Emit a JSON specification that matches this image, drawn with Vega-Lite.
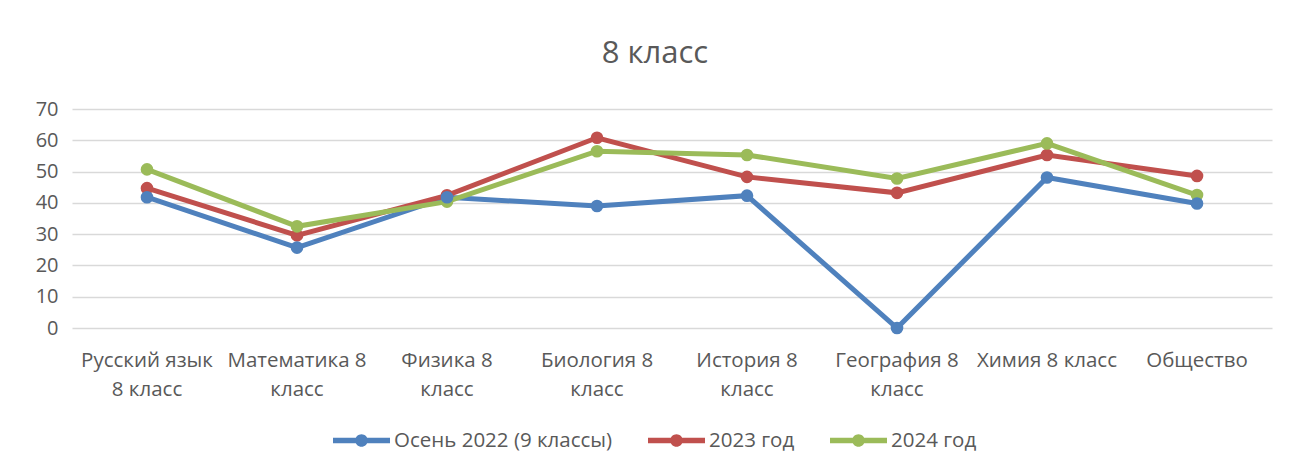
{
  "$schema": "https://vega.github.io/schema/vega-lite/v6.json",
  "autosize": "none",
  "width": 1200,
  "height": 219,
  "padding": {"left": 72, "top": 109, "right": 19, "bottom": 144},
  "background": "white",
  "config": {
    "font": "Open Sans",
    "view": {"stroke": null}
  },
  "title": {
    "text": "8 класс",
    "fontSize": 31,
    "fontWeight": "normal",
    "color": "#595959",
    "offset": 29,
    "dx": -17,
    "anchor": "middle"
  },
  "data": {
    "values": [
      {"subject": "Русский язык 8 класс", "series": "Осень 2022 (9 классы)", "value": 41.8},
      {"subject": "Математика 8 класс", "series": "Осень 2022 (9 классы)", "value": 25.7},
      {"subject": "Физика 8 класс", "series": "Осень 2022 (9 классы)", "value": 41.8},
      {"subject": "Биология 8 класс", "series": "Осень 2022 (9 классы)", "value": 39},
      {"subject": "История 8 класс", "series": "Осень 2022 (9 классы)", "value": 42.3},
      {"subject": "География 8 класс", "series": "Осень 2022 (9 классы)", "value": 0},
      {"subject": "Химия 8 класс", "series": "Осень 2022 (9 классы)", "value": 48.1},
      {"subject": "Общество", "series": "Осень 2022 (9 классы)", "value": 39.8},
      {"subject": "Русский язык 8 класс", "series": "2023 год", "value": 44.7},
      {"subject": "Математика 8 класс", "series": "2023 год", "value": 29.6},
      {"subject": "Физика 8 класс", "series": "2023 год", "value": 42.4},
      {"subject": "Биология 8 класс", "series": "2023 год", "value": 60.8},
      {"subject": "История 8 класс", "series": "2023 год", "value": 48.3},
      {"subject": "География 8 класс", "series": "2023 год", "value": 43.2},
      {"subject": "Химия 8 класс", "series": "2023 год", "value": 55.3},
      {"subject": "Общество", "series": "2023 год", "value": 48.6},
      {"subject": "Русский язык 8 класс", "series": "2024 год", "value": 50.7},
      {"subject": "Математика 8 класс", "series": "2024 год", "value": 32.5},
      {"subject": "Физика 8 класс", "series": "2024 год", "value": 40.4},
      {"subject": "Биология 8 класс", "series": "2024 год", "value": 56.5},
      {"subject": "История 8 класс", "series": "2024 год", "value": 55.3},
      {"subject": "География 8 класс", "series": "2024 год", "value": 47.8},
      {"subject": "Химия 8 класс", "series": "2024 год", "value": 59},
      {"subject": "Общество", "series": "2024 год", "value": 42.5}
    ]
  },
  "encoding": {
    "x": {
      "field": "subject",
      "type": "nominal",
      "sort": null,
      "scale": {"type": "band", "paddingInner": 0, "paddingOuter": 0},
      "axis": {
        "title": null,
        "labelAngle": 0,
        "domain": false,
        "ticks": false,
        "labelFontSize": 20.5,
        "labelColor": "#595959",
        "labelPadding": 22,
        "labelLineHeight": 29,
        "labelBaseline": "top",
        "labelLimit": 300,
        "labelExpr": "length(datum.label) > 13 ? (indexof(datum.label, 'язык') > 0 ? ['Русский язык', '8 класс'] : [substring(datum.label, 0, lastindexof(datum.label, ' ')), 'класс']) : datum.label"
      }
    },
    "y": {
      "field": "value",
      "type": "quantitative",
      "scale": {"domain": [0, 70], "nice": false},
      "axis": {
        "title": null,
        "values": [0, 10, 20, 30, 40, 50, 60, 70],
        "domain": false,
        "ticks": false,
        "labelFontSize": 20,
        "labelColor": "#595959",
        "labelPadding": 14,
        "gridColor": "#D9D9D9",
        "gridWidth": 1.5
      }
    },
    "color": {
      "field": "series",
      "type": "nominal",
      "sort": ["Осень 2022 (9 классы)", "2023 год", "2024 год"],
      "scale": {
        "domain": ["Осень 2022 (9 классы)", "2023 год", "2024 год"],
        "range": ["#4F81BD", "#C0504D", "#9BBB59"]
      },
      "legend": {
        "title": null,
        "orient": "none",
        "legendX": 261,
        "legendY": 303,
        "direction": "horizontal",
        "labelFontSize": 20.5,
        "labelColor": "#595959",
        "labelLimit": 400,
        "columnPadding": 35,
        "symbolType": "M-1,-0.1L1,-0.1L1,0.1L-1,0.1Z M0,-0.22A0.22,0.22 0 1,1 0,0.22A0.22,0.22 0 1,1 0,-0.22Z",
        "symbolSize": 3249,
        "symbolStrokeWidth": 0,
        "labelOffset": 4
      }
    },
    "order": {"field": "series"}
  },
  "layer": [
    {
      "mark": {"type": "line", "strokeWidth": 5, "point": {"size": 160, "filled": true, "opacity": 1}}
    }
  ]
}
